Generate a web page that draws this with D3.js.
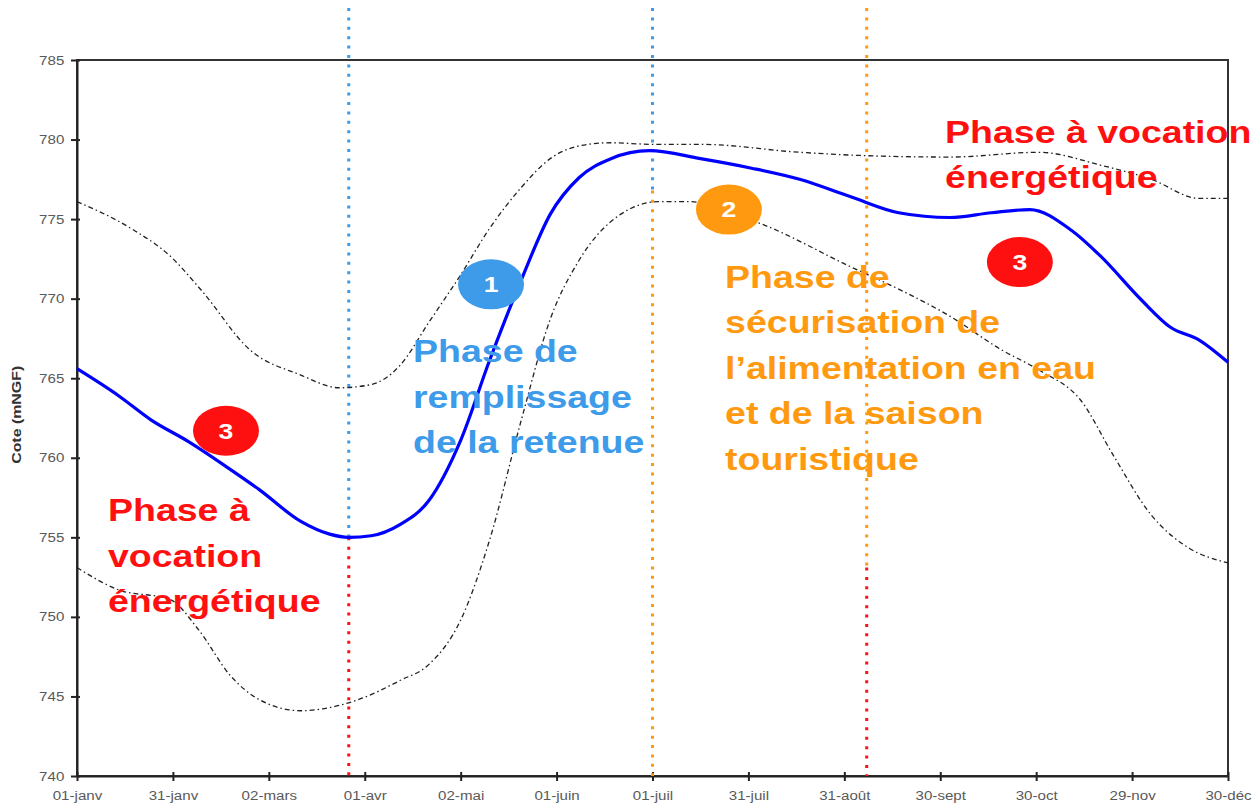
<!DOCTYPE html>
<html>
<head>
<meta charset="utf-8">
<script src="https://cdn.jsdelivr.net/npm/d3@7"></script>
<style>
  body { margin: 0; background: #fff; }
  .tick text { font-family: 'Liberation Sans', Arial, sans-serif; fill: #5a5a5a; }
  .phase { font-family: 'Liberation Sans', Arial, sans-serif; font-weight: bold; }
</style>
</head>
<body>
<div id="chart"></div>
<script>
// x in days since 01-janv, y in mNGF
const tickDays = [0, 30, 60, 90, 120, 150, 180, 210, 240, 270, 300, 330, 360]
const tickLabels = ['01-janv', '31-janv', '02-mars', '01-avr', '02-mai', '01-juin', '01-juil',
  '31-juil', '31-août', '30-sept', '30-oct', '29-nov', '30-déc']
const yTicks = [740, 745, 750, 755, 760, 765, 770, 775, 780, 785]

const coteDays = [0, 13, 23, 35, 47, 57, 70, 79, 85, 92, 101, 110, 120, 129, 139, 148, 157, 167,
  179, 195, 211, 226, 242, 257, 273, 286, 298, 311, 320, 333, 342, 351, 360]
const coteValues = [765.6, 763.9, 762.4, 761.0, 759.4, 758.0, 756.0, 755.2, 755.0, 755.1, 755.8,
  757.3, 761.1, 766.1, 771.2, 775.3, 777.6, 778.8, 779.3, 778.8, 778.2, 777.5, 776.4, 775.4,
  775.1, 775.4, 775.6, 774.3, 772.7, 769.9, 768.2, 767.4, 766.0]

const upperDays = [0, 17, 29, 39, 54, 70, 82, 92, 101, 110, 120, 129, 139, 148, 157, 167, 180,
  195, 226, 245, 273, 301, 320, 336, 351, 360]
const upperValues = [776.1, 774.4, 772.7, 770.5, 766.8, 765.2, 764.4, 764.6, 765.8, 768.5, 771.5,
  774.4, 777.0, 778.8, 779.6, 779.8, 779.7, 779.7, 779.2, 779.0, 778.9, 779.2, 778.4, 777.5,
  776.3, 776.3]

const lowerDays = [0, 13, 29, 38, 48, 57, 70, 79, 88, 101, 110, 120, 129, 139, 148, 157, 170,
  182, 191, 214, 242, 257, 273, 289, 301, 314, 324, 336, 348, 360]
const lowerValues = [753.1, 751.7, 751.1, 749.2, 746.3, 744.8, 744.1, 744.3, 744.8, 746.0, 747.0,
  749.8, 754.8, 762.4, 768.7, 772.4, 775.3, 776.1, 776.1, 774.7, 772.0, 770.6, 768.9, 766.8,
  765.5, 763.6, 760.2, 756.4, 754.3, 753.4]

// phase boundaries: day, and value where the colour changes
const dividerDays = [85, 180, 247]
const dividerSplits = [755.0, 776.8, 753.1]

const badgeDays = [46.6, 129.5, 203.9, 294.9]
const badgeValues = [761.7, 770.9, 775.6, 772.3]
const badgeLabels = ['3', '1', '2', '3']

const phaseTexts = [
  ['Phase à', 'vocation', 'énergétique'],
  ['Phase de', 'remplissage', 'de la retenue'],
  ['Phase de', 'sécurisation de', 'l’alimentation en eau', 'et de la saison', 'touristique'],
  ['Phase à vocation', 'énergétique']
]
const phaseDays = [9.7, 105.1, 202.7, 271.5]
const phaseValues = [756.0, 766.0, 770.7, 779.8]

const margin = { top: 60, left: 77, right: 28, bottom: 32 }
const width = 1256 - margin.left - margin.right
const height = 808 - margin.top - margin.bottom

const RED = '#ff1010'
const BLUE = '#3d9be9'
const ORANGE = '#ff9a10'
const badgeColors = [RED, BLUE, ORANGE, RED]
const phaseColors = [RED, BLUE, ORANGE, RED]
const dividerColors = [[BLUE, RED], [BLUE, ORANGE], [ORANGE, RED]]
const stretch = 1.21 // the original text is drawn wider than it is tall

var svg = d3
  .select('#chart')
  .append('svg')
  .attr('width', width + margin.left + margin.right)
  .attr('height', height + margin.top + margin.bottom)
  .append('g')
  .attr('transform', 'translate(' + margin.left + ',' + margin.top + ')')

var xPositionScale = d3.scaleLinear().domain([0, 360]).range([0, width])
var yPositionScale = d3.scaleLinear().domain([740, 785]).range([height, 0])

// frame
svg
  .append('rect')
  .attr('width', width)
  .attr('height', height)
  .attr('fill', 'none')
  .attr('stroke', '#333')
  .attr('stroke-width', 2)

// axes
const xAxis = d3
  .axisBottom(xPositionScale)
  .tickValues(tickDays)
  .tickFormat((d, i) => tickLabels[i])
  .tickSize(5)
  .tickSizeOuter(0)
svg
  .append('g')
  .attr('class', 'axis x-axis')
  .attr('transform', 'translate(0,' + height + ')')
  .call(xAxis)
  .call(g => g.select('.domain').attr('stroke', '#222').attr('stroke-width', 2))
  .call(g => g.selectAll('.tick line').attr('y1', -4).attr('stroke', '#222').attr('stroke-width', 2))
  .call(g => g.selectAll('.tick text').attr('font-size', 12.5).attr('dy', '1.25em')
    .attr('transform', 'scale(' + stretch + ',1)'))

const yAxis = d3.axisLeft(yPositionScale).tickValues(yTicks).tickSize(6).tickSizeOuter(0)
svg
  .append('g')
  .attr('class', 'axis y-axis')
  .call(yAxis)
  .call(g => g.select('.domain').attr('stroke', '#222').attr('stroke-width', 2))
  .call(g => g.selectAll('.tick line').attr('x1', 3).attr('x2', -6).attr('stroke', '#222').attr('stroke-width', 2))
  .call(g => g.selectAll('.tick text').attr('font-size', 12.5).attr('x', -10.5)
    .attr('transform', 'scale(' + stretch + ',1)'))

svg
  .append('text')
  .attr('transform', 'translate(-56,' + yPositionScale(762.7) + ') rotate(-90)')
  .attr('text-anchor', 'middle')
  .attr('font-family', "'Liberation Sans', Arial, sans-serif")
  .attr('font-size', 12.5)
  .attr('font-weight', 'bold')
  .attr('fill', '#333')
  .attr('textLength', 98)
  .attr('lengthAdjust', 'spacingAndGlyphs')
  .text('Cote (mNGF)')

// phase dividers
dividerDays.forEach(function(day, i) {
  const x = xPositionScale(day)
  const ys = yPositionScale(dividerSplits[i])
  svg.append('line')
    .attr('x1', x).attr('x2', x).attr('y1', -52).attr('y2', ys)
    .attr('stroke', dividerColors[i][0]).attr('stroke-width', 3)
    .attr('stroke-dasharray', '3,6.4')
  svg.append('line')
    .attr('x1', x).attr('x2', x).attr('y1', ys).attr('y2', height)
    .attr('stroke', dividerColors[i][1]).attr('stroke-width', 3)
    .attr('stroke-dasharray', '3,6.4')
})

const line = d3
  .line()
  .x(d => xPositionScale(d[0]))
  .y(d => yPositionScale(d[1]))
  .curve(d3.curveMonotoneX)

svg.append('path')
  .datum(d3.zip(upperDays, upperValues))
  .attr('d', line)
  .attr('fill', 'none')
  .attr('stroke', '#222')
  .attr('stroke-width', 1.3)
  .attr('stroke-dasharray', '5,3,1.5,3')

svg.append('path')
  .datum(d3.zip(lowerDays, lowerValues))
  .attr('d', line)
  .attr('fill', 'none')
  .attr('stroke', '#222')
  .attr('stroke-width', 1.3)
  .attr('stroke-dasharray', '5,3,1.5,3')

svg.append('path')
  .datum(d3.zip(coteDays, coteValues))
  .attr('d', line)
  .attr('fill', 'none')
  .attr('stroke', '#0000ff')
  .attr('stroke-width', 3.2)

// phase texts
phaseTexts.forEach(function(lines, i) {
  const t = svg.append('g')
    .attr('transform', 'translate(' + xPositionScale(phaseDays[i]) + ',' + yPositionScale(phaseValues[i]) +
      ') scale(' + stretch + ',1)')
    .append('text')
    .attr('class', 'phase')
    .attr('font-size', 31)
    .attr('fill', phaseColors[i])
  lines.forEach(function(s, j) {
    t.append('tspan')
      .attr('x', 0)
      .attr('dy', j === 0 ? 0 : 45.5)
      .text(s)
  })
})

// numbered badges
const badges = svg
  .selectAll('.badge')
  .data(d3.range(badgeLabels.length))
  .enter()
  .append('g')
  .attr('class', 'badge')
  .attr('transform', i => 'translate(' + xPositionScale(badgeDays[i]) + ',' + yPositionScale(badgeValues[i]) + ')')

badges.append('ellipse')
  .attr('rx', 33)
  .attr('ry', 25)
  .attr('fill', i => badgeColors[i])

badges.append('text')
  .attr('text-anchor', 'middle')
  .attr('dy', '0.36em')
  .attr('transform', 'scale(' + stretch + ',1)')
  .attr('font-family', "'Liberation Sans', Arial, sans-serif")
  .attr('font-weight', 'bold')
  .attr('font-size', 22)
  .attr('fill', '#fff')
  .text(i => badgeLabels[i])
</script>
</body>
</html>
